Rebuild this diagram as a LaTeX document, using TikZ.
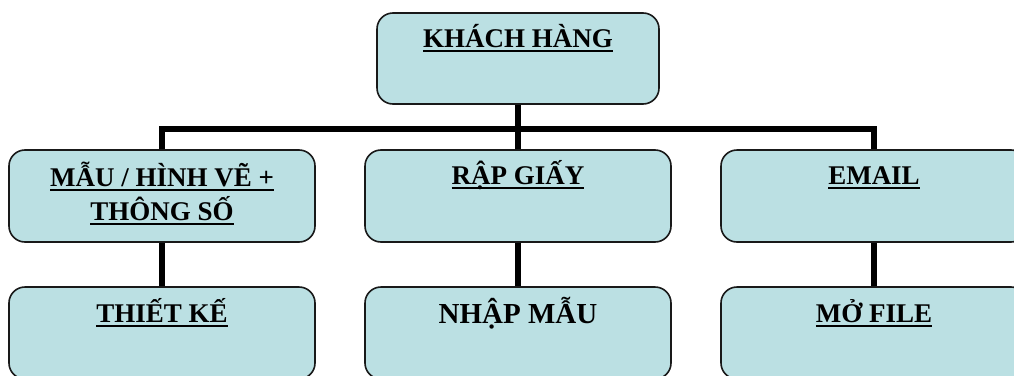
\documentclass[tikz,border=0pt]{standalone}
\usepackage{fontspec}
\setmainfont{Liberation Serif}
\usetikzlibrary{calc}
\newcommand\ulin[1]{\setbox0=\hbox{#1}\rlap{\rule[-0.16em]{\wd0}{0.07em}}\box0}
\definecolor{boxfill}{RGB}{187,224,227}
\definecolor{boxline}{RGB}{25,25,25}
\begin{document}
\begin{tikzpicture}[x=0.75pt,y=-0.75pt,
  box/.style={draw=boxline,line width=1.2pt,fill=boxfill,rounded corners=12pt,
    rectangle,inner sep=0pt,minimum width=229.5pt,minimum height=69pt},
  topbox/.style={box,minimum width=211.5pt,minimum height=68.25pt},
  lbl/.style={anchor=base,inner sep=0pt,align=center,
    font=\fontsize{20.25pt}{25.5pt}\selectfont\bfseries},
  biglbl/.style={lbl,font=\fontsize{21.75pt}{25.5pt}\selectfont\bfseries},
  conn/.style={line width=4.5pt,black}]
\clip (0,0) rectangle (1014,375);
\fill[white] (0,0) rectangle (1014,375);
% boxes
\node[topbox] (k)  at (518,58.5) {};
\node[box] (m1) at (162,196) {};
\node[box] (m2) at (518,196) {};
\node[box] (m3) at (874,196) {};
\node[box] (d1) at (162,333) {};
\node[box] (d2) at (518,333) {};
\node[box] (d3) at (874,333) {};
% labels (a two-line label is placed by the baseline of its last line)
\node[lbl] (kt)  at ($(k.north)+(0,35)$) {\ulin{KHÁCH HÀNG}};
\node[lbl] (m1t) at ($(m1.north)+(0,71)$) {\ulin{MẪU / HÌNH VẼ +}\\\ulin{THÔNG SỐ}};
\node[lbl] (m2t) at ($(m2.north)+(0,35)$) {\ulin{RẬP GIẤY}};
\node[lbl] (m3t) at ($(m3.north)+(0,35)$) {\ulin{EMAIL}};
\node[lbl] (d1t) at ($(d1.north)+(0,36)$) {\ulin{THIẾT KẾ}};
\node[biglbl] (d2t) at ($(d2.north)+(0,37)$) {NHẬP MẪU};
\node[lbl] (d3t) at ($(d3.north)+(0,36)$) {\ulin{MỞ FILE}};
% connectors
\coordinate (hub) at (518,128.5);
\draw[conn] (k) -- (hub);
\draw[conn] (m1) |- (hub) -| (m3);
\draw[conn] (m2) -- (hub);
\draw[conn] (m1) -- (d1);
\draw[conn] (m2) -- (d2);
\draw[conn] (m3) -- (d3);
\end{tikzpicture}
\end{document}
